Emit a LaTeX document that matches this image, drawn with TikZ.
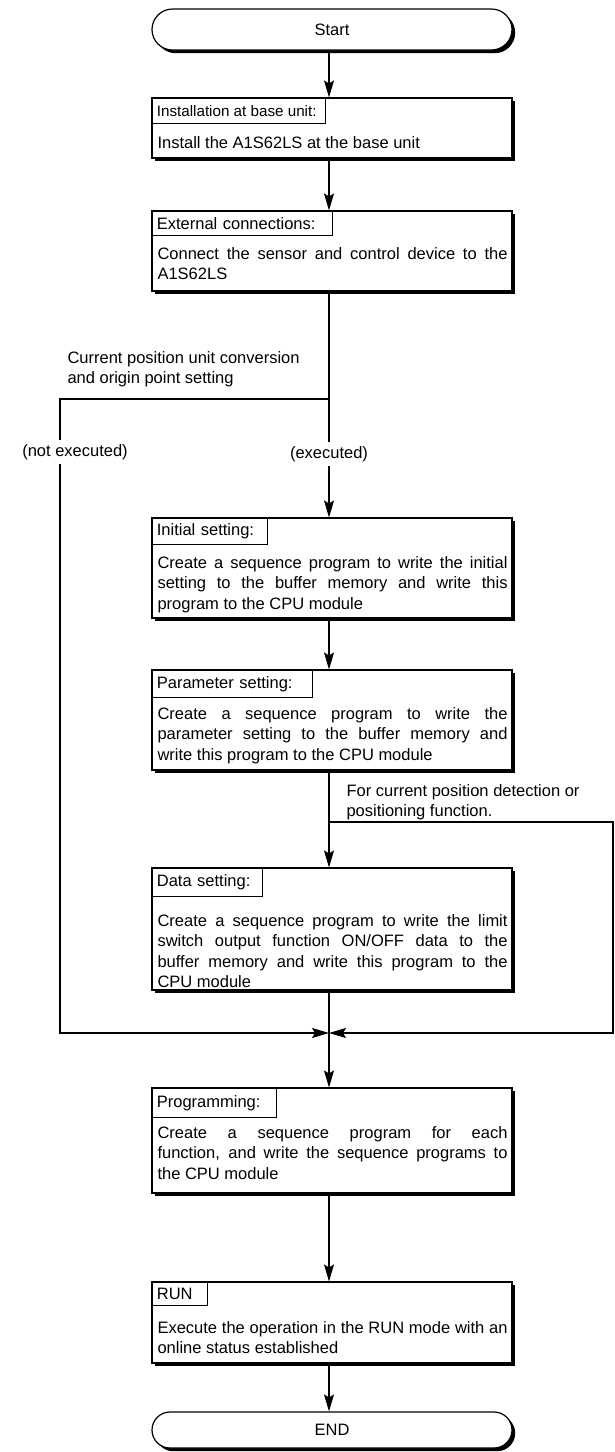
\documentclass[tikz,border=0pt]{standalone}
\usepackage{fontspec}
\setmainfont{Liberation Sans}
\usetikzlibrary{arrows.meta,shapes.misc,shadows}
\begin{document}
\begin{tikzpicture}[x=1pt,y=-1pt,
  font=\fontsize{16.5}{20.5}\selectfont,
  line width=1.1pt,
  shad/.style={drop shadow={shadow xshift=3.2pt,shadow yshift=-3.2pt,opacity=1,fill=black}},
  procbox/.style={draw,fill=white,minimum width=360pt,inner sep=0pt,shad},
  term/.style={rounded rectangle,draw,fill=white,minimum width=360pt,inner sep=0pt,shad,line width=1.2pt},
  hdr/.style={draw,line width=0.8pt,anchor=north west,inner xsep=5pt,inner ysep=0pt,align=left,minimum height=27pt},
  bodytxt/.style={anchor=north west,inner sep=0pt,text width=350pt,align=justify},
  lbl/.style={inner sep=0pt,align=left,anchor=north west},
  arr/.style={-{Stealth[length=17pt,width=10pt,inset=3pt]}}
]
\useasboundingbox (0,0) rectangle (615,1452);

% terminals
\node[term,minimum height=41pt] (start) at (332,29.5) {Start};
\node[term,minimum height=36pt] (end) at (332,1430) {END};

% process boxes
\node[procbox,minimum height=60pt] (b1) at (332,128) {};
\node[hdr,minimum height=26pt,font=\fontsize{15.2}{18}\selectfont] (h1) at (b1.north west) {\makebox[164pt][l]{Installation at base unit:}};
\node[bodytxt] (t1) at (157,135.5) {Install the A1S62LS at the base unit};

\node[procbox,minimum height=80pt] (b2) at (332,251) {};
\node[hdr,text width=171pt,minimum height=25pt] (h2) at (b2.north west) {External connections:};
\node[bodytxt] (t2) at (157,246.5) {Connect the sensor and control device to the\linebreak A1S62LS};

\node[procbox,minimum height=100pt] (b3) at (332,568) {};
\node[hdr,text width=106pt] (h3) at (b3.north west) {Initial setting:};
\node[bodytxt] (t3) at (157,555.5) {Create a sequence program to write the initial\linebreak setting to the buffer memory and write this\linebreak program to the CPU module};

\node[procbox,minimum height=100pt] (b4) at (332,720) {};
\node[hdr,text width=151pt,minimum height=28pt] (h4) at (b4.north west) {Parameter setting:};
\node[bodytxt] (t4) at (157,706.5) {Create a sequence program to write the\linebreak parameter setting to the buffer memory and\linebreak write this program to the CPU module};

\node[procbox,minimum height=122pt] (b5) at (332,929) {};
\node[hdr,text width=101pt,minimum height=29pt] (h5) at (b5.north west) {Data setting:};
\node[bodytxt] (t5) at (157,913.5) {Create a sequence program to write the limit\linebreak switch output function ON/OFF data to the\linebreak buffer memory and write this program to the\linebreak CPU module};

\node[procbox,minimum height=105pt] (b6) at (332,1140.5) {};
\node[hdr,text width=115pt,minimum height=30pt] (h6) at (b6.north west) {Programming:};
\node[bodytxt] (t6) at (157,1125.5) {Create a sequence program for each\linebreak function, and write the sequence programs to\linebreak the CPU module};

\node[procbox,minimum height=81pt] (b7) at (332,1322.5) {};
\node[hdr,text width=46pt,minimum height=24pt] (h7) at (b7.north west) {RUN};
\node[bodytxt] (t7) at (157,1320.5) {Execute the operation in the RUN mode with an\linebreak online status established};

% labels
\node[lbl] (cond1) at (67,350.5) {Current position unit conversion\\and origin point setting};
\node[inner sep=4pt,anchor=base] (notexec) at (75,456) {(not executed)};
\node[inner sep=4pt,anchor=base] (exec) at (329,458.5) {(executed)};
\node[lbl] (cond2) at (346,783.5) {For current position detection or\\positioning function.};

% helper coordinates
\coordinate (ax) at (329,0);
\coordinate (br1) at (329,399);
\coordinate (brL) at (60,399);
\coordinate (br2) at (329,822);
\coordinate (rt) at (613,822);
\coordinate (m) at (329,1033);

% connectors
\draw[arr] (start.south -| ax) -- (b1.north -| ax);
\draw[arr] (b1.south -| ax) -- (b2.north -| ax);
\draw (b2.south -| ax) -- (exec.north);
\draw (br1) -- (brL) -- (notexec.north -| brL);
\draw[arr] (exec.south) -- (b3.north -| ax);
\draw[arr] (b3.south -| ax) -- (b4.north -| ax);
\draw[arr] (b4.south -| ax) -- (b5.north -| ax);
\draw[arr] (br2) -- (rt) |- (m);
\draw[arr] (notexec.south -| brL) |- (m);
\draw[arr] (b5.south -| ax) -- (b6.north -| ax);
\draw[arr] (b6.south -| ax) -- (b7.north -| ax);
\draw[arr] (b7.south -| ax) -- (end.north -| ax);
\end{tikzpicture}
\end{document}
